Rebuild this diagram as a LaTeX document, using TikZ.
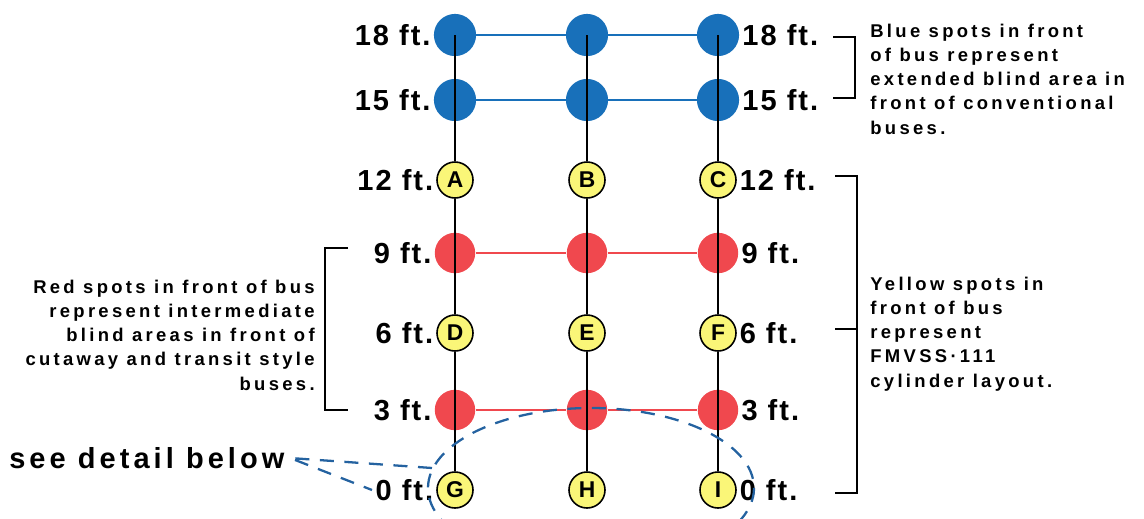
\documentclass[tikz,border=0pt]{standalone}
\usepackage{fontspec}
\setmainfont{Liberation Sans}
\newfontfamily\ftfont[LetterSpace=7]{Liberation Sans}
\newfontfamily\notefont[LetterSpace=18]{Liberation Sans}
\newfontfamily\seefont[LetterSpace=14]{Liberation Sans}
\usetikzlibrary{positioning}
\definecolor{spotblue}{RGB}{24,112,186}
\definecolor{spotred}{RGB}{240,72,78}
\definecolor{spotyellow}{RGB}{250,246,120}
\definecolor{dashblue}{RGB}{36,98,160}
\tikzset{
  ft/.style={font=\ftfont\bfseries\fontsize{16.5}{18}\selectfont, inner sep=0pt},
  note/.style={font=\notefont\bfseries\fontsize{10.5}{13.7}\selectfont,
               inner sep=0pt},
  bracket/.style={line width=0.8pt}
}

\begin{document}
\begin{tikzpicture}[x=0.02cm, y=-0.02cm,
  blue spot/.style={circle, fill=spotblue, minimum size=24pt, inner sep=0pt},
  red spot/.style={circle, fill=spotred, minimum size=23pt, inner sep=0pt},
  yellow spot/.style={circle, draw=black, line width=0.9pt, fill=spotyellow,
                      minimum size=20.5pt, inner sep=0pt,
                      font=\bfseries\fontsize{13}{13}\selectfont},
  detail/.style={dashblue, line width=1.3pt, dash pattern=on 8pt off 6pt}
]
\useasboundingbox (0,0) rectangle (1144,518);

% the spots
\foreach \c/\x in {a/455,b/587,c/718}{
  \node[blue spot] (\c18) at (\x,35) {};
  \node[blue spot] (\c15) at (\x,100) {};
  \node[red spot]  (\c9)  at (\x,253) {};
  \node[red spot]  (\c3)  at (\x,410) {};
}
\foreach \c/\x/\p/\q/\r in {a/455/A/D/G,b/587/B/E/H,c/718/C/F/I}{
  \node[yellow spot] (\c12) at (\x,180) {\p};
  \node[yellow spot] (\c6)  at (\x,333) {\q};
  \node[yellow spot] (\c0)  at (\x,490) {\r};
}

% rows and columns
\draw[spotblue, line width=1.3pt] (a18) -- (b18) -- (c18);
\draw[spotblue, line width=1.3pt] (a15) -- (b15) -- (c15);
\draw[spotred, line width=1.3pt] (a9) -- (b9) -- (c9);
\draw[spotred, line width=1.3pt] (a3) -- (b3) -- (c3);
\foreach \c in {a,b,c}
  \draw[line width=0.7pt] (\c18.center) -- (\c15.center) -- (\c12)
        (\c12) -- (\c9.center) -- (\c6)
        (\c6) -- (\c3.center) -- (\c0);

% distances
\foreach \d in {18,15,12,9,6,3,0}{
  \node[ft, left=1.5pt of a\d]  (l\d) {\d\ ft.};
  \node[ft, right=1.5pt of c\d] (r\d) {\d\ ft.};
}

% brackets
\draw[bracket] (833,37) -- (855,37) -- (855,98) -- (833,98);
\draw[bracket] (835,176) -- (857,176) -- (857,493) -- (835,493);
\draw[bracket] (835,329) -- (857,329);
\draw[bracket] (348,248) -- (325,248) -- (325,410) -- (348,410);

% notes
\node[note, anchor=north west, align=left] (bluenote) at (870,24)
  {Blue spots in front\\of bus represent\\extended blind area in\\front of conventional\\buses.};
\node[note, anchor=north west, align=left] (yellownote) at (870,277)
  {Yellow spots in\\front of bus\\represent\\FMVSS·111\\cylinder layout.};
\node[note, anchor=north east, align=right] (rednote) at (315,280)
  {Red spots in front of bus\\represent intermediate\\blind areas in front of\\cutaway and transit style\\buses.};

% the detail ring
\node[font=\seefont\bfseries\fontsize{16.5}{18}\selectfont, inner sep=0pt,
      anchor=west] (see) at (9,458) {see detail below};
\begin{scope}
  \clip (0,0) rectangle (1144,518);
  \draw[detail] (591,488) ellipse [x radius=163, y radius=80];
\end{scope}
\coordinate (ring) at (432,468);
\coordinate (tail) at (372,490);
\draw[detail] (ring) -- ([xshift=3pt]see.east) -- (tail);
\end{tikzpicture}
\end{document}
